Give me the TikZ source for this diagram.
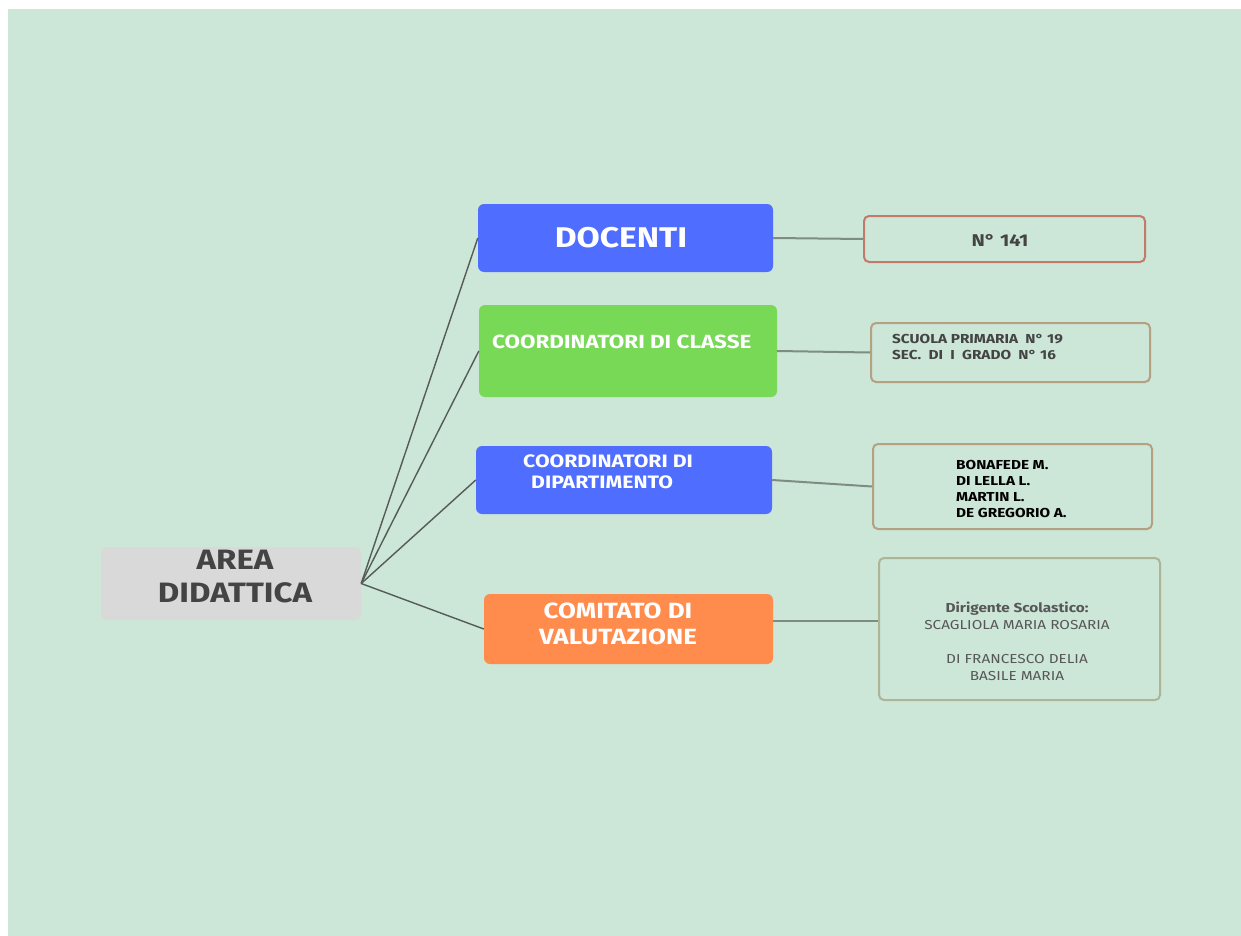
\documentclass[tikz,border=0pt]{standalone}
\usepackage{fontspec}
\setmainfont[FakeStretch=1.18]{Fira Sans}
\definecolor{bg}{HTML}{CCE6D8}
\definecolor{blu}{HTML}{4F6EFF}
\definecolor{grn}{HTML}{78D957}
\definecolor{org}{HTML}{FF8C4D}
\definecolor{gry}{HTML}{D9D9D9}
\definecolor{txt}{HTML}{444444}
\definecolor{redb}{HTML}{C27A6A}
\definecolor{tan}{HTML}{B3A182}
\definecolor{sage}{HTML}{AEB596}
\definecolor{lnk}{HTML}{555B58}
\definecolor{lnk2}{HTML}{7E8C84}
\tikzset{
  main/.style={rounded corners=6pt, inner sep=0pt, draw=none},
  info/.style={rounded corners=5pt, inner sep=0pt, line width=2pt, fill=bg},
  wt/.style={text=white, font=\bfseries, align=left, inner sep=0pt},
  it/.style={text=txt, font=\bfseries, align=left, inner sep=0pt},
  trunk/.style={draw=lnk, line width=1.4pt},
  leaf/.style={draw=lnk2, line width=2pt},
}
\begin{document}
\begin{tikzpicture}[x=1pt,y=-1pt]
\fill[white] (0,0) rectangle (1241,936);
\fill[bg] (8,9) rectangle (1241,936);
\useasboundingbox (0,0) rectangle (1241,936);

% main boxes
\node[main, fill=gry, minimum width=260pt, minimum height=73pt] (area) at (231,583.5) {};
\node[main, fill=blu, minimum width=295pt, minimum height=68pt] (doc) at (625.5,238) {};
\node[main, fill=grn, minimum width=298pt, minimum height=92pt] (cla) at (628,351) {};
\node[main, fill=blu, minimum width=296pt, minimum height=68pt] (dip) at (624,480) {};
\node[main, fill=org, minimum width=289pt, minimum height=70pt] (com) at (628.5,629) {};

% info boxes
\node[info, draw=redb, minimum width=281pt, minimum height=46pt] (n141) at (1004.5,239) {};
\node[info, draw=tan, minimum width=279pt, minimum height=59pt] (scu) at (1010.5,352.5) {};
\node[info, draw=tan, minimum width=279pt, minimum height=85pt] (bon) at (1012.5,486.5) {};
\node[info, draw=sage, minimum width=281pt, minimum height=142pt] (dir) at (1019.5,629) {};

% connectors
\draw[trunk] (area.east) -- (doc.west);
\draw[trunk] (area.east) -- (cla.west);
\draw[trunk] (area.east) -- (dip.west);
\draw[trunk] (area.east) -- (com.west);
\draw[leaf] (doc.east) -- (n141.west);
\draw[leaf] (cla.east) -- (scu.west);
\draw[leaf] (dip.east) -- (bon.west);
\draw[leaf] ([yshift=8pt]com.east) -- ([yshift=8pt]dir.west);

% texts
\node[text=txt, font=\fontsize{28}{33}\selectfont\bfseries, align=center, inner sep=0pt] (areat) at (235,577) {AREA\\DIDATTICA};
\node[wt, font=\fontsize{28.5}{34}\selectfont\bfseries] (doct) at (621,238) {DOCENTI};
\node[wt, font=\fontsize{19}{22}\selectfont\bfseries, anchor=west] (clat) at (492,342) {COORDINATORI DI CLASSE};
\node[wt, font=\fontsize{18}{21}\selectfont\bfseries, anchor=north west] (dipt) at (523,455) {COORDINATORI DI\\\hspace*{8pt}DIPARTIMENTO};
\node[wt, font=\fontsize{22}{26}\selectfont\bfseries, align=center] (comt) at (618,624) {COMITATO DI\\VALUTAZIONE};

\node[text=txt, font=\fontsize{17}{20}\selectfont\bfseries, inner sep=0pt] (n141t) at (1000,240) {N° 141};
\node[it, font=\fontsize{13}{16}\selectfont\bfseries, anchor=west] (scut) at (892,347) {SCUOLA PRIMARIA~ N° 19\\SEC.~ DI~ I~ GRADO~ N° 16};
\node[text=black, font=\fontsize{13}{16.3}\selectfont\bfseries, align=left, inner sep=0pt, anchor=west] (bont) at (956,489) {BONAFEDE M.\\DI LELLA L.\\MARTIN L.\\DE GREGORIO A.};
\node[text=txt!90, font=\fontsize{13}{17}\selectfont, align=center, inner sep=0pt] (dirt) at (1017,641) {\textbf{Dirigente Scolastico:}\\SCAGLIOLA MARIA ROSARIA\\[17pt]DI FRANCESCO DELIA\\BASILE MARIA};
\end{tikzpicture}
\end{document}
